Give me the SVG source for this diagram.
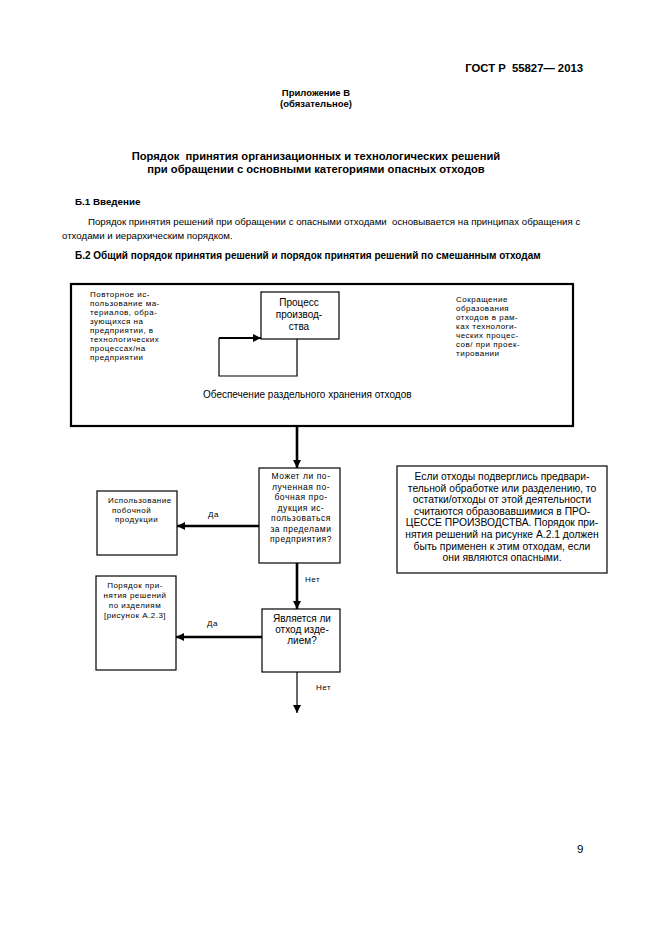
<svg xmlns="http://www.w3.org/2000/svg" width="661" height="936" viewBox="0 0 661 936">
<defs>
<style>
text{font-family:"Liberation Sans",Arial,sans-serif;fill:#000}
.b{font-weight:bold}
.sm{font-size:8px;letter-spacing:0.5px}
.md{font-size:9.5px}
.c{text-anchor:middle}
.box{fill:#fff;stroke:#000;stroke-width:1.2}
.thick{stroke:#000;stroke-width:2.6;fill:none}
.thin{stroke:#000;stroke-width:1.2;fill:none}
</style>
<marker id="ah" markerUnits="userSpaceOnUse" markerWidth="8" markerHeight="8" viewBox="0 0 8 8" refX="8" refY="4" orient="auto">
<path d="M0,0 L8,4 L0,8 z" fill="#000"/>
</marker>
</defs>
<rect width="661" height="936" fill="#fff"/>

<g id="page-text">
<text x="583" y="72" class="b" font-size="11.3" text-anchor="end">ГОСТ Р&#160; 55827— 2013</text>
<text x="316" y="96" class="b c" font-size="9.5">Приложение В</text>
<text x="316" y="107" class="b c" font-size="9.5">(обязательное)</text>
<text x="316" y="160" class="b c" font-size="11.2">Порядок&#160; принятия организационных и технологических решений</text>
<text x="316" y="173" class="b c" font-size="11.2">при обращении с основными категориями опасных отходов</text>
<text x="75" y="205" class="b" font-size="9.8">Б.1 Введение</text>
<text x="88" y="225" font-size="9.7">Порядок принятия решений при обращении с опасными отходами&#160; основывается на принципах обращения с</text>
<text x="62" y="239" font-size="9.7">отходами и иерархическим порядком.</text>
<text x="75" y="259" class="b" font-size="10">Б.2 Общий порядок принятия решений и порядок принятия решений по смешанным отходам</text>
<text x="577" y="853" font-size="11.5">9</text>
</g>

<g id="main-frame">
<rect x="71" y="284" width="502" height="142" fill="none" stroke="#000" stroke-width="2.2"/>
<text class="sm"><tspan x="90" y="297">Повторное ис-</tspan><tspan x="90" y="306">пользование ма-</tspan><tspan x="90" y="315">териалов, обра-</tspan><tspan x="90" y="324">зующихся на</tspan><tspan x="90" y="333">предприятии, в</tspan><tspan x="90" y="342">технологических</tspan><tspan x="90" y="351">процессах/на</tspan><tspan x="90" y="360">предприятии</tspan></text>
<text class="sm"><tspan x="456" y="302">Сокращение</tspan><tspan x="456" y="311">образования</tspan><tspan x="456" y="320">отходов в рам-</tspan><tspan x="456" y="329">ках технологи-</tspan><tspan x="456" y="338">ческих процес-</tspan><tspan x="456" y="347">сов/ при проек-</tspan><tspan x="456" y="356">тировании</tspan></text>
<text x="203" y="398" font-size="10">Обеспечение раздельного хранения отходов</text>
</g>

<g id="process">
<rect x="261" y="292" width="78" height="47" class="box"/>
<text class="c" font-size="10"><tspan x="299" y="306">Процесс</tspan><tspan x="299" y="318">производ-</tspan><tspan x="299" y="330">ства</tspan></text>
</g>

<g id="decision1">
<rect x="259" y="468" width="81" height="95" class="box"/>
<text class="c" font-size="8.5" letter-spacing="0.55"><tspan x="301" y="479">Может ли по-</tspan><tspan x="301" y="489.5">лученная по-</tspan><tspan x="301" y="500">бочная про-</tspan><tspan x="301" y="510.5">дукция ис-</tspan><tspan x="301" y="521">пользоваться</tspan><tspan x="301" y="531.5">за пределами</tspan><tspan x="301" y="542">предприятия?</tspan></text>
</g>

<g id="byproduct">
<rect x="97" y="491" width="80" height="64" class="box"/>
<text class="sm"><tspan x="108" y="503">Использование</tspan><tspan x="112" y="512.5">побочной</tspan><tspan x="115" y="522">продукции</tspan></text>
</g>

<g id="decision2">
<rect x="262" y="609" width="78" height="63" class="box"/>
<text class="c" font-size="10"><tspan x="302" y="622">Является ли</tspan><tspan x="302" y="633">отход изде-</tspan><tspan x="302" y="644">лием?</tspan></text>
</g>

<g id="products">
<rect x="96" y="576" width="80" height="94" class="box"/>
<text class="sm c"><tspan x="135" y="588">Порядок при-</tspan><tspan x="135" y="598">нятия решений</tspan><tspan x="135" y="608">по изделиям</tspan><tspan x="135" y="618">[рисунок А.2.3]</tspan></text>
</g>

<g id="note">
<rect x="397" y="466" width="210" height="107" class="box"/>
<text class="c" font-size="10.3"><tspan x="502" y="480">Если отходы подверглись предвари-</tspan><tspan x="502" y="491.6">тельной обработке или разделению, то</tspan><tspan x="502" y="503.2">остатки/отходы от этой деятельности</tspan><tspan x="502" y="514.8">считаются образовавшимися в ПРО-</tspan><tspan x="502" y="526.4">ЦЕССЕ ПРОИЗВОДСТВА. Порядок при-</tspan><tspan x="502" y="538">нятия решений на рисунке А.2.1 должен</tspan><tspan x="502" y="549.6">быть применен к этим отходам, если</tspan><tspan x="502" y="561.2">они являются опасными.</tspan></text>
</g>

<g id="connectors">
<path d="M297,339 V376 H219 V338" class="thin"/>
<path d="M219,338 H261" stroke="#000" stroke-width="2" fill="none" marker-end="url(#ah)"/>
<path d="M297,426 V468" class="thick" marker-end="url(#ah)"/>
<path d="M297,563 V609" class="thick" marker-end="url(#ah)"/>
<path d="M297,672 V713" class="thin" marker-end="url(#ah)"/>
<path d="M259,526 H177" class="thick" marker-end="url(#ah)"/>
<path d="M262,637 H176" class="thick" marker-end="url(#ah)"/>
<text x="208" y="517" class="sm">Да</text>
<text x="207" y="626" class="sm">Да</text>
<text x="305" y="582" class="sm">Нет</text>
<text x="316" y="690" class="sm">Нет</text>
</g>
</svg>
